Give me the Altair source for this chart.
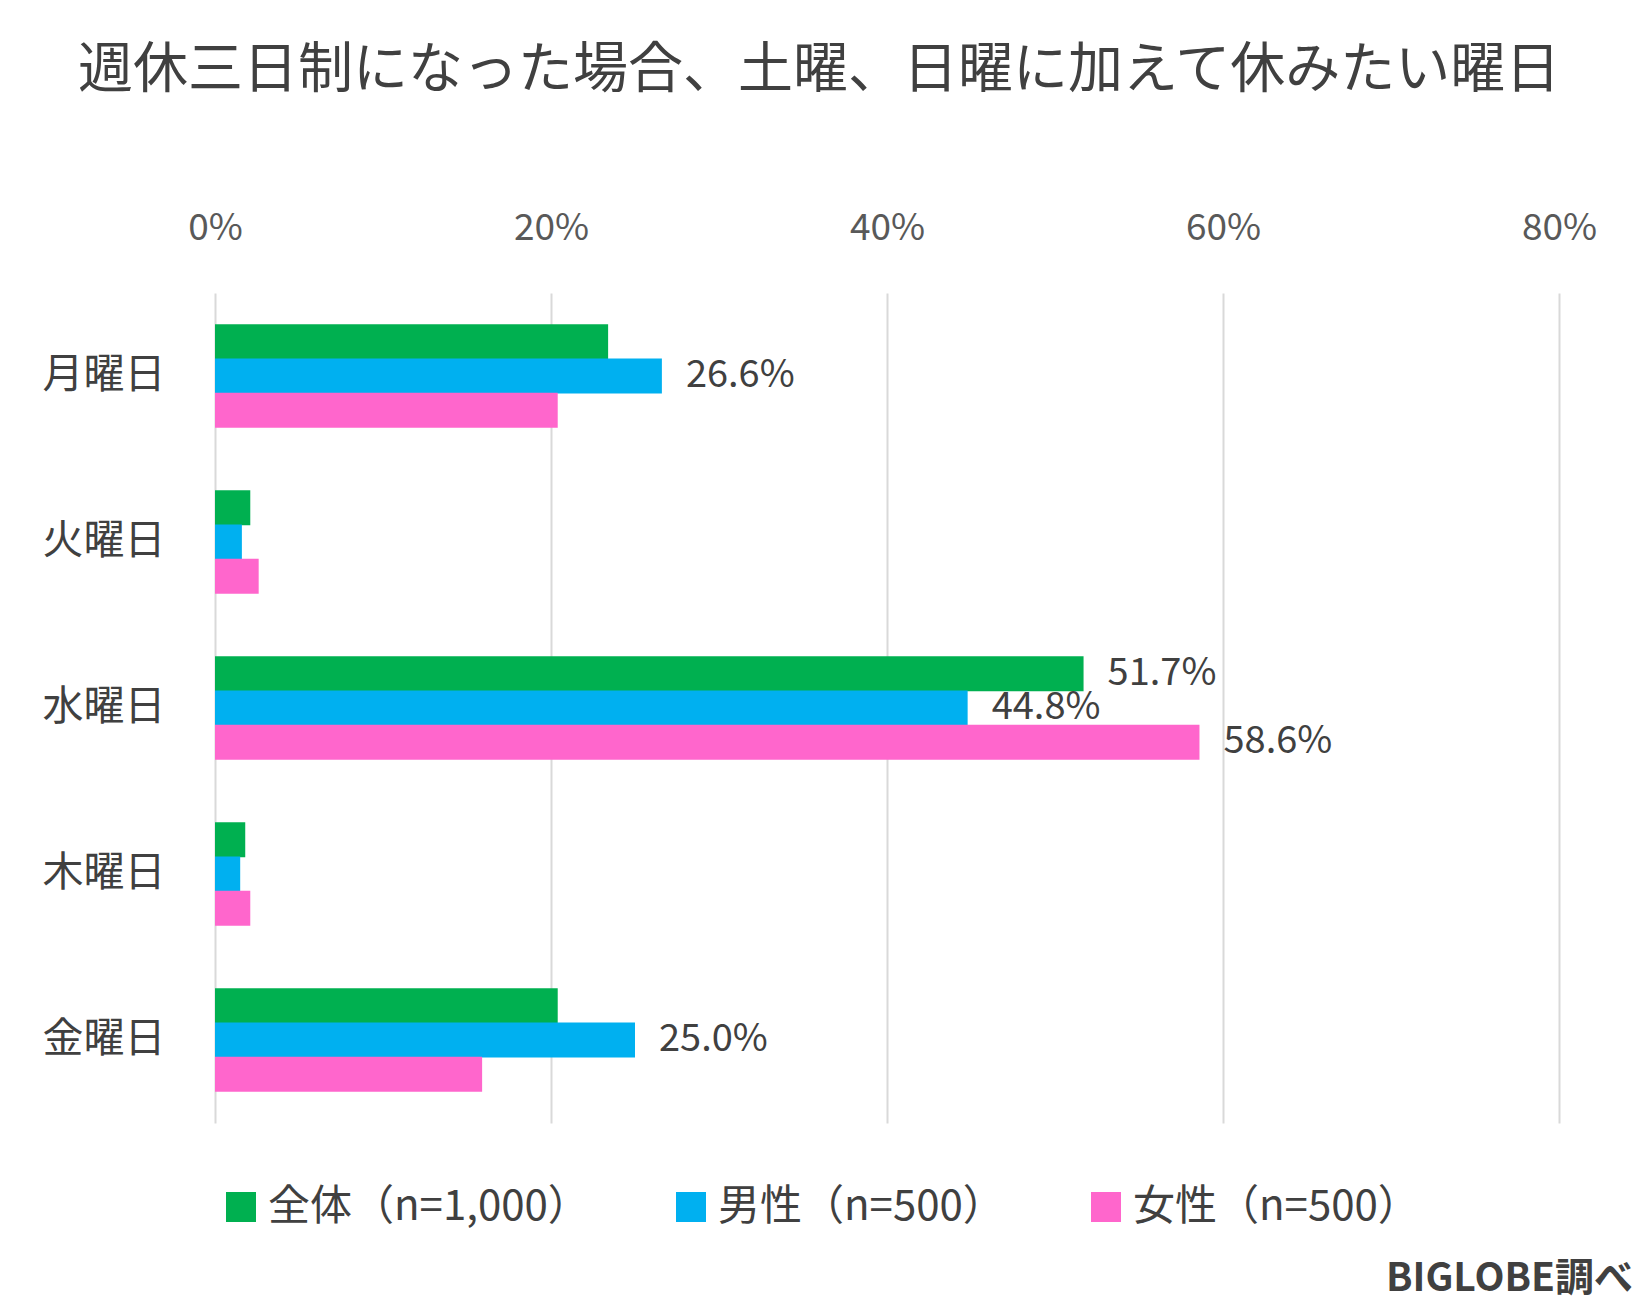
import altair as alt
import pandas as pd

days = ["月曜日", "火曜日", "水曜日", "木曜日", "金曜日"]
series = ["全体（n=1,000）", "男性（n=500）", "女性（n=500）"]
colors = ["#00B050", "#00B0F0", "#FF66CC"]
v_all = [23.4, 2.1, 51.7, 1.8, 20.4]
v_male = [26.6, 1.6, 44.8, 1.5, 25.0]
v_female = [20.4, 2.6, 58.6, 2.1, 15.9]
# which bars carry a value label
show_all = [False, False, True, False, False]
show_male = [True, False, True, False, True]
show_female = [False, False, True, False, False]
x_ticks = [0, 20, 40, 60, 80]

rows = []
for s, vals, shows in zip(series, [v_all, v_male, v_female], [show_all, show_male, show_female]):
    for d, v, sh in zip(days, vals, shows):
        rows.append({"day": d, "series": s, "value": v, "show": sh,
                     "label": f"{v:.1f}%"})
df = pd.DataFrame(rows)

FONT = "Noto Sans CJK JP"

y_enc = alt.Y("day:N", sort=days, title=None,
              scale=alt.Scale(paddingInner=0.38, paddingOuter=0.19),
              axis=alt.Axis(labelFontSize=41, labelColor="#404040", labelFont=FONT,
                            labelPadding=50, ticks=False, domain=False, grid=False))
y_off = alt.YOffset("series:N", sort=series, scale=alt.Scale(paddingInner=0, paddingOuter=0))
x_enc = alt.X("value:Q", title=None,
              scale=alt.Scale(domain=[0, 80], nice=False),
              axis=alt.Axis(orient="top", values=x_ticks, labelExpr="datum.value + '%'",
                            labelFontSize=37, labelColor="#595959", labelFont=FONT,
                            labelPadding=46, labelFlush=False, ticks=False, domain=False,
                            grid=True, gridColor="#d9d9d9", gridWidth=2))

bars = alt.Chart(df).mark_bar(size=35).encode(
    y=y_enc,
    yOffset=y_off,
    x=x_enc,
    color=alt.Color("series:N", sort=series,
                    scale=alt.Scale(domain=series, range=colors),
                    legend=alt.Legend(title=None, orient="none", direction="horizontal",
                                      legendX=5, legendY=893,
                                      symbolType="square", symbolSize=900,
                                      symbolStrokeWidth=0,
                                      labelFontSize=42, labelColor="#404040", labelFont=FONT,
                                      labelOffset=6, columnPadding=80, labelLimit=600)),
)

labels = alt.Chart(df).transform_filter("datum.show").mark_text(
    align="left", baseline="middle", dx=24, fontSize=38, color="#404040", font=FONT
).encode(
    y=alt.Y("day:N", sort=days),
    yOffset=y_off,
    x="value:Q",
    text="label:N",
)

credit = alt.Chart(pd.DataFrame({"t": ["BIGLOBE調べ"]})).mark_text(
    align="right", baseline="middle", fontSize=39, fontWeight="bold",
    color="#404040", font=FONT
).encode(x=alt.value(1418), y=alt.value(986), text="t:N")

chart = alt.layer(bars, labels, credit).properties(
    width=1344, height=830,
    title=alt.TitleParams("週休三日制になった場合、土曜、日曜に加えて休みたい曜日",
                          fontSize=55, font=FONT, fontWeight="normal", color="#404040",
                          anchor="middle", dx=-68, offset=110),
    autosize=alt.AutoSizeParams(type="none"),
    padding={"left": 207, "top": 285, "right": 82, "bottom": 186},
).configure_view(stroke=None)

chart.save("out.html", embed_options={"renderer": "svg", "actions": False})
